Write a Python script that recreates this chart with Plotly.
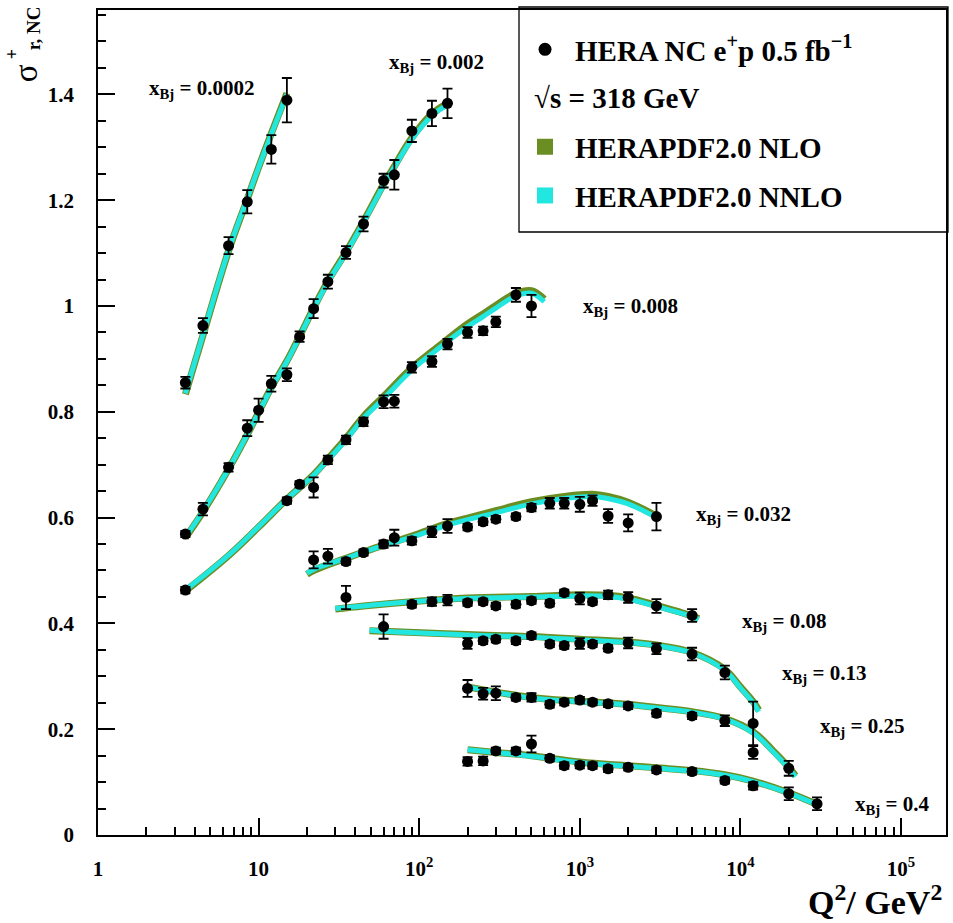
import plotly.graph_objects as go

# ---------------- data ----------------
xbj_labels = ["0.0002", "0.002", "0.008", "0.032", "0.08", "0.13", "0.25", "0.4"]

q2_0002 = [3.5, 4.5, 6.5, 8.5, 12, 15]
sig_0002 = [0.855, 0.963, 1.114, 1.197, 1.296, 1.389]
err_0002 = [0.011, 0.014, 0.016, 0.022, 0.027, 0.042]

q2_002 = [3.5, 4.5, 6.5, 8.5, 10, 12, 15, 18, 22, 27, 35, 45, 60, 70, 90, 120, 150]
sig_002 = [0.569, 0.616, 0.695, 0.769, 0.803, 0.853, 0.870, 0.942, 0.995, 1.046, 1.101,
           1.155, 1.237, 1.248, 1.331, 1.364, 1.383]
err_002 = [0.006, 0.012, 0.008, 0.015, 0.022, 0.015, 0.012, 0.010, 0.018, 0.013, 0.012,
           0.014, 0.013, 0.028, 0.021, 0.024, 0.028]

q2_008 = [3.5, 15, 18, 22, 27, 35, 45, 60, 70, 90, 120, 150, 200, 250, 300, 400, 500]
sig_008 = [0.463, 0.632, 0.663, 0.657, 0.709, 0.747, 0.781, 0.819, 0.820, 0.884, 0.895,
           0.928, 0.950, 0.953, 0.970, 1.021, 1.000]
err_008 = [0.006, 0.006, 0.006, 0.019, 0.008, 0.008, 0.008, 0.012, 0.012, 0.010, 0.010,
           0.010, 0.010, 0.008, 0.010, 0.013, 0.021]

q2_032 = [22, 27, 35, 45, 60, 70, 90, 120, 150, 200, 250, 300, 400, 500, 650, 800, 1000,
          1200, 1500, 2000, 3000]
sig_032 = [0.520, 0.527, 0.517, 0.534, 0.550, 0.562, 0.556, 0.573, 0.584, 0.582, 0.592,
           0.597, 0.602, 0.619, 0.627, 0.627, 0.625, 0.632, 0.603, 0.590, 0.602]
err_032 = [0.016, 0.014, 0.006, 0.006, 0.007, 0.015, 0.007, 0.010, 0.013, 0.006, 0.006,
           0.006, 0.006, 0.007, 0.010, 0.010, 0.014, 0.010, 0.013, 0.016, 0.026]

q2_08 = [35, 90, 120, 150, 200, 250, 300, 400, 500, 650, 800, 1000, 1200, 1500, 2000, 3000, 5000]
sig_08 = [0.449, 0.436, 0.441, 0.444, 0.439, 0.441, 0.433, 0.436, 0.443, 0.438, 0.458,
          0.447, 0.441, 0.454, 0.449, 0.433, 0.415]
err_08 = [0.022, 0.006, 0.008, 0.010, 0.006, 0.006, 0.006, 0.006, 0.006, 0.006, 0.006,
          0.011, 0.006, 0.008, 0.010, 0.013, 0.012]

q2_13 = [60, 200, 250, 300, 400, 500, 650, 800, 1000, 1200, 1500, 2000, 3000, 5000, 8000, 12000]
sig_13 = [0.394, 0.362, 0.367, 0.370, 0.367, 0.377, 0.361, 0.358, 0.362, 0.361, 0.353,
          0.363, 0.352, 0.342, 0.307, 0.211]
err_13 = [0.023, 0.010, 0.006, 0.006, 0.006, 0.006, 0.006, 0.006, 0.010, 0.006, 0.006,
          0.010, 0.010, 0.012, 0.013, 0.041]

q2_25 = [200, 250, 300, 400, 500, 650, 800, 1000, 1200, 1500, 2000, 3000, 5000, 8000, 12000, 20000]
sig_25 = [0.277, 0.267, 0.268, 0.260, 0.260, 0.247, 0.251, 0.255, 0.251, 0.248, 0.244,
          0.230, 0.225, 0.216, 0.156, 0.126]
err_25 = [0.016, 0.011, 0.013, 0.006, 0.008, 0.006, 0.006, 0.006, 0.006, 0.006, 0.006,
          0.006, 0.006, 0.010, 0.012, 0.014]

q2_4 = [200, 250, 300, 400, 500, 650, 800, 1000, 1200, 1500, 2000, 3000, 5000, 8000,
        12000, 20000, 30000]
sig_4 = [0.139, 0.140, 0.159, 0.159, 0.172, 0.145, 0.131, 0.132, 0.131, 0.125, 0.128,
         0.123, 0.120, 0.103, 0.093, 0.078, 0.059]
err_4 = [0.008, 0.008, 0.006, 0.006, 0.016, 0.006, 0.006, 0.006, 0.006, 0.006, 0.006,
         0.006, 0.006, 0.006, 0.007, 0.012, 0.012]

# theory curves (HERAPDF2.0 NNLO / NLO)
cq_0002 = [3.5, 4.5, 6.5, 8.5, 10, 12, 15]
nnlo_0002 = [0.835, 0.945, 1.105, 1.203, 1.262, 1.325, 1.400]
nlo_0002 = [0.833, 0.944, 1.104, 1.202, 1.262, 1.326, 1.402]

cq_002 = [3.5, 4.5, 6.5, 8.5, 10, 12, 15, 18, 22, 27, 35, 45, 60, 70, 90, 120, 150]
nnlo_002 = [0.563, 0.612, 0.692, 0.757, 0.798, 0.845, 0.895, 0.942, 0.995, 1.045, 1.100,
            1.158, 1.228, 1.262, 1.315, 1.360, 1.380]
nlo_002 = [0.562, 0.611, 0.692, 0.757, 0.799, 0.846, 0.896, 0.943, 0.996, 1.047, 1.102,
           1.160, 1.230, 1.264, 1.318, 1.363, 1.383]

cq_008 = [3.5, 6.5, 10, 15, 22, 27, 35, 45, 60, 90, 120, 150, 200, 250, 300, 400, 500, 600]
nnlo_008 = [0.463, 0.529, 0.583, 0.635, 0.680, 0.709, 0.747, 0.788, 0.825, 0.879, 0.910,
            0.933, 0.961, 0.980, 0.996, 1.019, 1.024, 1.008]
nlo_008 = [0.461, 0.528, 0.582, 0.635, 0.681, 0.711, 0.750, 0.791, 0.829, 0.883, 0.914,
           0.937, 0.966, 0.985, 1.001, 1.024, 1.029, 1.013]

cq_032 = [20, 22, 27, 35, 45, 60, 90, 150, 200, 300, 500, 800, 1200, 1500, 2000, 3000]
nnlo_032 = [0.495, 0.502, 0.512, 0.523, 0.535, 0.547, 0.563, 0.586, 0.596, 0.609, 0.626,
            0.636, 0.640, 0.636, 0.626, 0.600]
nlo_032 = [0.493, 0.500, 0.511, 0.523, 0.535, 0.548, 0.565, 0.589, 0.599, 0.613, 0.630,
           0.640, 0.644, 0.640, 0.629, 0.603]

cq_08 = [30, 45, 90, 200, 500, 1000, 1500, 2000, 3000, 5000, 5500]
nnlo_08 = [0.428, 0.433, 0.441, 0.447, 0.450, 0.452, 0.451, 0.446, 0.432, 0.413, 0.408]
nlo_08 = [0.427, 0.433, 0.441, 0.448, 0.451, 0.454, 0.453, 0.448, 0.434, 0.414, 0.409]

cq_13 = [49, 60, 200, 500, 1000, 2000, 3000, 5000, 8000, 10000, 12000, 13000]
nnlo_13 = [0.387, 0.385, 0.378, 0.374, 0.369, 0.364, 0.358, 0.344, 0.311, 0.278, 0.250, 0.233]
nlo_13 = [0.386, 0.385, 0.379, 0.375, 0.370, 0.365, 0.359, 0.345, 0.313, 0.280, 0.252, 0.236]

cq_25 = [200, 500, 1000, 2000, 3000, 5000, 8000, 12000, 16000, 20000, 22000]
nnlo_25 = [0.280, 0.259, 0.252, 0.246, 0.240, 0.232, 0.219, 0.193, 0.157, 0.126, 0.110]
nlo_25 = [0.280, 0.260, 0.253, 0.247, 0.241, 0.233, 0.220, 0.195, 0.159, 0.128, 0.112]

cq_4 = [200, 300, 500, 1000, 2000, 3000, 5000, 8000, 12000, 20000, 30000]
nnlo_4 = [0.161, 0.156, 0.149, 0.137, 0.130, 0.126, 0.121, 0.113, 0.101, 0.079, 0.057]
nlo_4 = [0.161, 0.156, 0.150, 0.138, 0.131, 0.127, 0.122, 0.114, 0.102, 0.080, 0.058]

x_tickvals = [1, 10, 100, 1000, 10000, 100000]
x_ticktext = ["1", "10", "10<sup>2</sup>", "10<sup>3</sup>", "10<sup>4</sup>", "10<sup>5</sup>"]
y_tickvals = [0, 0.2, 0.4, 0.6, 0.8, 1.0, 1.2, 1.4]
y_ticktext = ["0", "0.2", "0.4", "0.6", "0.8", "1", "1.2", "1.4"]

# ---------------- layout geometry ----------------
W, H = 953, 923
L, R, T, B = 98, 5, 10, 88


def px(x):
    return (x - L) / (W - L - R)


def py(y):
    return (H - B - y) / (H - T - B)


FONT = "Liberation Serif"
NLO_COLOR = "#6b8e23"
NNLO_COLOR = "#22e6e0"

data_sets = [
    (q2_0002, sig_0002, err_0002), (q2_002, sig_002, err_002), (q2_008, sig_008, err_008),
    (q2_032, sig_032, err_032), (q2_08, sig_08, err_08), (q2_13, sig_13, err_13),
    (q2_25, sig_25, err_25), (q2_4, sig_4, err_4),
]
curve_sets = [
    (cq_0002, nlo_0002, nnlo_0002), (cq_002, nlo_002, nnlo_002), (cq_008, nlo_008, nnlo_008),
    (cq_032, nlo_032, nnlo_032), (cq_08, nlo_08, nnlo_08), (cq_13, nlo_13, nnlo_13),
    (cq_25, nlo_25, nnlo_25), (cq_4, nlo_4, nnlo_4),
]

fig = go.Figure()

# legend entries (drawn first so they order correctly)
fig.add_trace(go.Scatter(x=[None], y=[None], mode="markers", legendgroup="a",
                         name="HERA NC e<sup>+</sup>p 0.5 fb<sup>\u22121</sup>",
                         marker=dict(color="black", size=13, symbol="circle")))
fig.add_trace(go.Scatter(x=[None], y=[None], mode="markers", legendgroup="b", name=" ",
                         marker=dict(color="rgba(0,0,0,0)", size=13)))
fig.add_trace(go.Scatter(x=[None], y=[None], mode="markers", legendgroup="c",
                         name="HERAPDF2.0 NLO",
                         marker=dict(color=NLO_COLOR, size=16, symbol="square")))
fig.add_trace(go.Scatter(x=[None], y=[None], mode="markers", legendgroup="d",
                         name="HERAPDF2.0 NNLO",
                         marker=dict(color=NNLO_COLOR, size=16, symbol="square")))

for cq, nlo, nnlo in curve_sets:
    fig.add_trace(go.Scatter(x=cq, y=nlo, mode="lines", legendgroup="c", showlegend=False,
                             line=dict(color=NLO_COLOR, width=7, shape="spline", smoothing=1.1),
                             hoverinfo="skip"))
for cq, nlo, nnlo in curve_sets:
    fig.add_trace(go.Scatter(x=cq, y=nnlo, mode="lines", legendgroup="d", showlegend=False,
                             line=dict(color=NNLO_COLOR, width=5, shape="spline", smoothing=1.1),
                             hoverinfo="skip"))

for q, s, e in data_sets:
    fig.add_trace(go.Scatter(x=q, y=s, mode="markers", legendgroup="a", showlegend=False,
                             marker=dict(color="black", size=11),
                             error_y=dict(type="data", array=e, visible=True, color="black",
                                          thickness=1.8, width=5)))

# x_Bj labels: (left px, middle px)
label_pos = [(147, 89), (388, 63), (582, 307), (695, 515), (742, 622), (782, 674),
             (820, 727), (855, 805)]
annotations = []
for txt, (lx, my) in zip(xbj_labels, label_pos):
    annotations.append(dict(
        text="x<sub>Bj</sub> = " + txt, xref="paper", yref="paper", x=px(lx), y=py(my),
        xanchor="left", yanchor="middle", showarrow=False,
        font=dict(family=FONT, size=21, color="black", weight="bold")))

# axis titles
annotations.append(dict(text="Q<sup>2</sup>/ GeV<sup>2</sup>", xref="paper", yref="paper",
                        x=px(946), y=py(900), xanchor="right", yanchor="middle",
                        showarrow=False,
                        font=dict(family=FONT, size=34, color="black", weight="bold")))
annotations.append(dict(text="\u03c3", xref="paper", yref="paper", x=px(26), y=py(73),
                        xanchor="center", yanchor="middle", textangle=-90, showarrow=False,
                        font=dict(family=FONT, size=33, color="black")))
annotations.append(dict(text="+", xref="paper", yref="paper", x=px(12), y=py(54),
                        xanchor="center", yanchor="middle", textangle=-90, showarrow=False,
                        font=dict(family=FONT, size=18, color="black", weight="bold")))
annotations.append(dict(text="r, NC", xref="paper", yref="paper", x=px(33), y=py(28),
                        xanchor="center", yanchor="middle", textangle=-90, showarrow=False,
                        font=dict(family=FONT, size=19, color="black", weight="bold")))
# legend sub-line
annotations.append(dict(text="\u221as = 318 GeV", xref="paper", yref="paper", x=px(533),
                        y=py(98), xanchor="left", yanchor="middle", showarrow=False,
                        font=dict(family=FONT, size=29, color="black", weight="bold")))

minor_x = [m * 10 ** d for d in range(0, 6) for m in range(2, 10) if m * 10 ** d < 1.9e5]
minor_y = [round(0.05 * k, 2) for k in range(1, 32) if k % 4 != 0]

fig.update_layout(
    width=W, height=H,
    margin=dict(l=L, r=R, t=T, b=B),
    paper_bgcolor="white", plot_bgcolor="white",
    showlegend=True,
    legend=dict(x=px(516), y=py(24), xanchor="left", yanchor="top",
                bgcolor="rgba(0,0,0,0)", borderwidth=0, traceorder="grouped",
                tracegroupgap=8, itemwidth=50, itemsizing="trace",
                font=dict(family=FONT, size=29, color="black", weight="bold")),
    annotations=annotations,
    shapes=[dict(type="rect", xref="paper", yref="paper", x0=px(520), x1=px(950),
                 y0=py(7), y1=py(232), line=dict(color="black", width=1.3),
                 fillcolor="rgba(0,0,0,0)")],
    xaxis=dict(type="log", range=[0, 5.28], tickmode="array", tickvals=x_tickvals,
               ticktext=x_ticktext, ticks="inside", ticklen=17, tickwidth=1.5,
               tickcolor="black", showline=True, linecolor="black", linewidth=1.5,
               mirror=True, showgrid=False, zeroline=False, ticklabelstandoff=14,
               tickfont=dict(family=FONT, size=21, color="black", weight="bold"),
               minor=dict(tickmode="array", tickvals=minor_x, ticks="inside", ticklen=8,
                          tickwidth=1.5, tickcolor="black", showgrid=False)),
    yaxis=dict(range=[0, 1.5595], tickmode="array", tickvals=y_tickvals,
               ticktext=y_ticktext, ticks="inside", ticklen=17, tickwidth=1.5,
               tickcolor="black", showline=True, linecolor="black", linewidth=1.5,
               mirror=True, showgrid=False, zeroline=False, ticklabelstandoff=18,
               tickfont=dict(family=FONT, size=21, color="black", weight="bold"),
               minor=dict(tickmode="array", tickvals=minor_y, ticks="inside", ticklen=8,
                          tickwidth=1.5, tickcolor="black", showgrid=False)),
)

fig.write_html("out.html")
